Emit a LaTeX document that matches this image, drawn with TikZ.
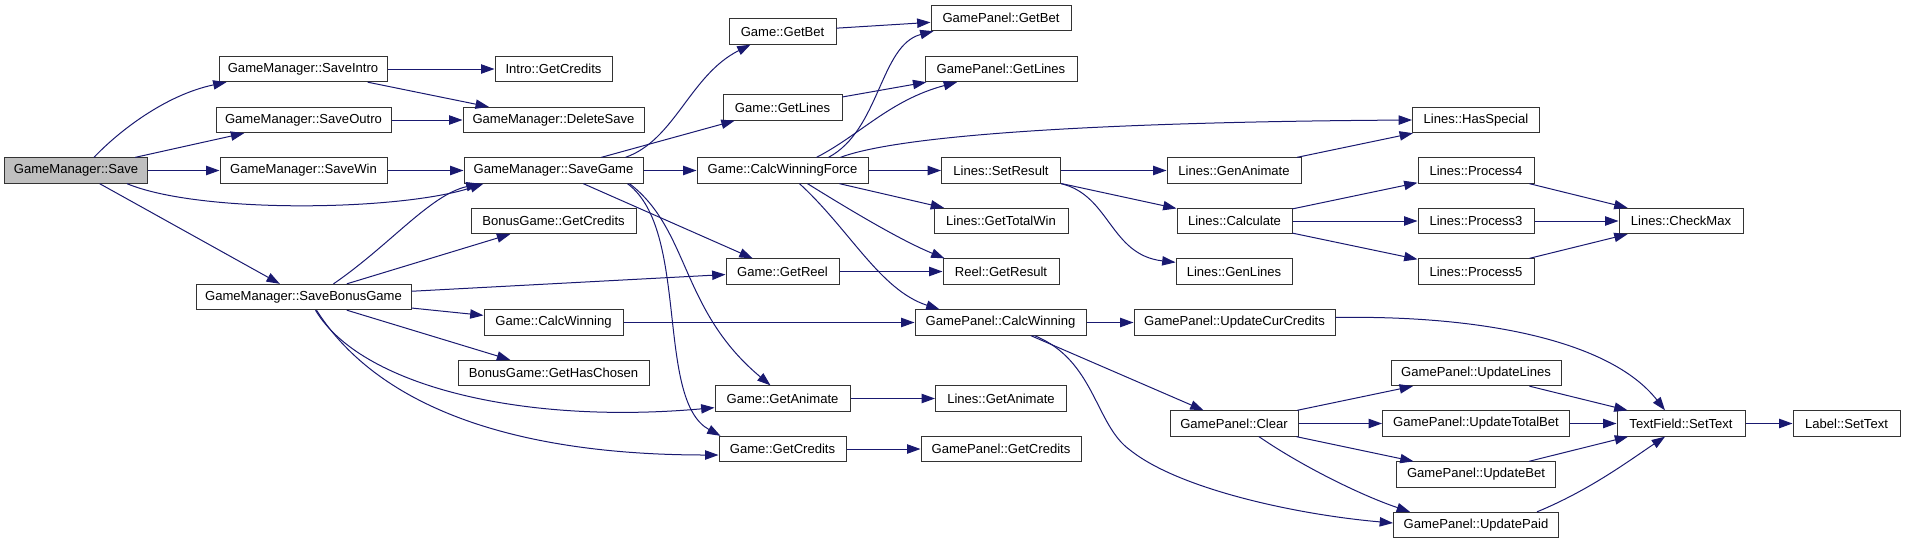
\documentclass[tikz,border=0pt]{standalone}
\usepackage{fontspec}
\setmainfont{Liberation Sans}
\usetikzlibrary{arrows.meta,calc}
\definecolor{callblue}{RGB}{25,25,112}
\tikzset{
  fn/.style={draw=black!80,fill=white,line width=0.75pt,inner sep=0pt,minimum height=19pt,
             minimum width=#1*0.75pt,font=\fontsize{9.8}{11}\selectfont},
  fnroot/.style={fn=#1,fill=black!25},
  call/.style={draw=callblue,line width=0.75pt,-{Triangle[length=10pt,width=7pt]}},
}
\begin{document}
\begin{tikzpicture}[x=0.75pt,y=-0.75pt]
  \useasboundingbox (0,0) rectangle (1905,544);
  % callers
  \node[fnroot=143] (save) at (76,170.5) {GameManager::Save};
  \node[fn=168] (saveintro) at (303,69) {GameManager::SaveIntro};
  \node[fn=175] (saveoutro) at (303.5,120) {GameManager::SaveOutro};
  \node[fn=167] (savewin) at (303.5,170.5) {GameManager::SaveWin};
  \node[fn=215] (savebonus) at (303.5,297) {GameManager::SaveBonusGame};
  \node[fn=117] (introcred) at (553.5,69) {Intro::GetCredits};
  \node[fn=181] (delsave) at (553.5,120) {GameManager::DeleteSave};
  \node[fn=179] (savegame) at (553.5,170.5) {GameManager::SaveGame};
  \node[fn=165] (bonuscred) at (553.5,221) {BonusGame::GetCredits};
  \node[fn=139] (gcalcwin) at (553.5,322.5) {Game::CalcWinning};
  \node[fn=191] (haschosen) at (553.5,373) {BonusGame::GetHasChosen};
  % Game
  \node[fn=107] (gbet) at (782.5,31.5) {Game::GetBet};
  \node[fn=119] (glines) at (782.5,107.5) {Game::GetLines};
  \node[fn=171] (gforce) at (782.5,170.5) {Game::CalcWinningForce};
  \node[fn=113] (greel) at (782.5,271.5) {Game::GetReel};
  \node[fn=135] (ganim) at (782.5,398.5) {Game::GetAnimate};
  \node[fn=127] (gcred) at (782.5,449) {Game::GetCredits};
  % GamePanel, Lines, Reel
  \node[fn=140] (pbet) at (1001,18) {GamePanel::GetBet};
  \node[fn=152] (plines) at (1001,69) {GamePanel::GetLines};
  \node[fn=119] (setres) at (1001,170.5) {Lines::SetResult};
  \node[fn=134] (totwin) at (1001,221) {Lines::GetTotalWin};
  \node[fn=116] (reelres) at (1001,271.5) {Reel::GetResult};
  \node[fn=171] (pcalc) at (1000.5,322.5) {GamePanel::CalcWinning};
  \node[fn=131] (lanim) at (1001,398.5) {Lines::GetAnimate};
  \node[fn=160] (pcred) at (1001,449) {GamePanel::GetCredits};
  \node[fn=134] (genanim) at (1234,170.5) {Lines::GenAnimate};
  \node[fn=115] (calc) at (1234.5,221) {Lines::Calculate};
  \node[fn=116] (genlines) at (1234,271.5) {Lines::GenLines};
  \node[fn=201] (pcurcred) at (1234.5,322.5) {GamePanel::UpdateCurCredits};
  \node[fn=128] (pclear) at (1234,423.5) {GamePanel::Clear};
  \node[fn=127] (hasspec) at (1476,120) {Lines::HasSpecial};
  \node[fn=116] (proc4) at (1476,170.5) {Lines::Process4};
  \node[fn=116] (proc3) at (1476,221) {Lines::Process3};
  \node[fn=116] (proc5) at (1476,271.5) {Lines::Process5};
  \node[fn=170] (pupdlines) at (1476,373) {GamePanel::UpdateLines};
  \node[fn=187] (pupdtot) at (1476,423.5) {GamePanel::UpdateTotalBet};
  \node[fn=159] (pupdbet) at (1476,474.5) {GamePanel::UpdateBet};
  \node[fn=165] (pupdpaid) at (1476,525) {GamePanel::UpdatePaid};
  \node[fn=124] (checkmax) at (1681,221) {Lines::CheckMax};
  \node[fn=128] (tfset) at (1681,423.5) {TextField::SetText};
  \node[fn=107] (lblset) at (1846.5,423.5) {Label::SetText};
  % straight calls
  \foreach \a/\b in {save/saveoutro,save/savewin,save/savebonus,saveintro/introcred,
      saveintro/delsave,saveoutro/delsave,savewin/savegame,savebonus/bonuscred,
      savebonus/greel,savebonus/gcalcwin,savebonus/haschosen,savegame/glines,
      savegame/gforce,savegame/greel,gbet/pbet,glines/plines,gforce/setres,
      gforce/totwin,greel/reelres,gcalcwin/pcalc,ganim/lanim,gcred/pcred,
      setres/genanim,setres/calc,genanim/hasspec,calc/proc4,calc/proc3,calc/proc5,
      proc4/checkmax,proc3/checkmax,proc5/checkmax,pcalc/pcurcred,pcalc/pclear,
      pclear/pupdlines,pclear/pupdtot,pclear/pupdbet,pupdlines/tfset,
      pupdtot/tfset,pupdbet/tfset,tfset/lblset}
    \draw[call] (\a) -- (\b);
  % curved calls
  \draw[call] ($(save.north)+(18,0)$) .. controls (118,132) and (165,95) .. ($(saveintro.south west)+(8,0)$);
  \draw[call] ($(save.south east)+(-21,0)$) .. controls (200,214) and (400,211) .. ($(savegame.south west)+(20,0)$);
  \draw[call] ($(savebonus.north)+(30,0)$) .. controls (390,245) and (430,195) .. ($(savegame.south west)+(16,0)$);
  \draw[call] ($(savebonus.south)+(12,0)$) .. controls (360,385) and (520,425) .. ($(ganim.south west)+(0,-4)$);
  \draw[call] ($(savebonus.south)+(13,0)$) .. controls (380,410) and (520,455) .. ($(gcred.west)+(0,6)$);
  \draw[call] ($(savegame.north east)+(-18,0)$) .. controls (675,140) and (690,75) .. ($(gbet.south west)+(22,0)$);
  \draw[call] ($(savegame.south east)+(-14,0)$) .. controls (690,230) and (680,310) .. ($(ganim.north)+(-12,0)$);
  \draw[call] ($(savegame.south east)+(-16,0)$) .. controls (690,230) and (655,400) .. ($(gcred.north west)+(2,0)$);
  \draw[call] ($(gforce.north)+(46,0)$) .. controls (880,130) and (880,45) .. ($(pbet.south west)+(3,0)$);
  \draw[call] ($(gforce.north)+(34,0)$) .. controls (860,135) and (890,100) .. ($(plines.south)+(-44,0)$);
  \draw[call] ($(gforce.north)+(58,0)$) .. controls (900,135) and (1100,122) .. (hasspec.west);
  \draw[call] ($(gforce.south)+(25,0)$) .. controls (850,210) and (900,240) .. ($(reelres.north west)+(2,0)$);
  \draw[call] ($(gforce.south)+(17,0)$) .. controls (850,230) and (880,290) .. ($(pcalc.north west)+(25,0)$);
  \draw[call] (setres.south east) .. controls (1110,195) and (1110,255) .. ($(genlines.north west)+(0,4)$);
  \draw[call] ($(pcalc.south east)+(-52,0)$) .. controls (1095,360) and (1095,425) .. (1130,450)
    .. controls (1180,490) and (1300,515) .. ($(pupdpaid.west)+(0,-2)$);
  \draw[call] ($(pcurcred.east)+(0,-5)$) .. controls (1480,315) and (1610,340) .. ($(tfset.north)+(-16,0)$);
  \draw[call] ($(pclear.south)+(25,0)$) .. controls (1300,465) and (1360,495) .. ($(pupdpaid.north west)+(17,0)$);
  \draw[call] ($(pupdpaid.north east)+(-22,0)$) .. controls (1590,490) and (1630,460) .. ($(tfset.south)+(-16,0)$);
\end{tikzpicture}
\end{document}
